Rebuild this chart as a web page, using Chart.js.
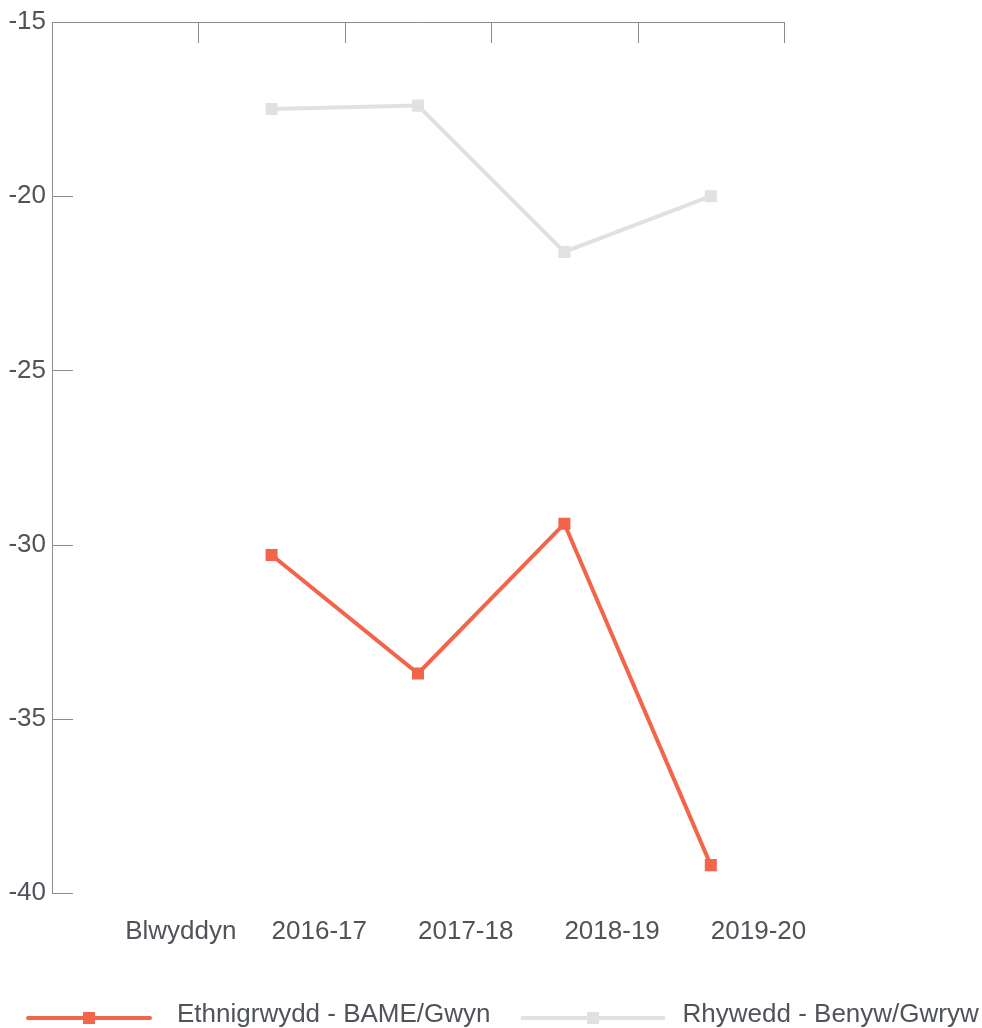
<!DOCTYPE html>
<html>
<head>
<meta charset="utf-8">
<script src="https://cdn.jsdelivr.net/npm/chart.js@4.4.0/dist/chart.umd.min.js"></script>
<style>
  html, body { margin: 0; padding: 0; background: #fff; }
  #wrap { width: 982px; height: 1028px; position: relative; }
</style>
</head>
<body>
<div id="wrap"><canvas id="gap-chart"></canvas></div>
<script>
var years = ["Blwyddyn", "2016-17", "2017-18", "2018-19", "2019-20"];
var ethnicityGap = [null, -30.3, -33.7, -29.4, -39.2];
var genderGap = [null, -17.5, -17.4, -21.6, -20.0];
var yTicks = [-40, -35, -30, -25, -20, -15];

var seriesNames = ["Ethnigrwydd - BAME/Gwyn", "Rhywedd - Benyw/Gwryw"];
var seriesColors = ["#f2654a", "#e1e1e3"];

var textColor = "#505459";
var axisColor = "#8c8c8c";
var fontFamily = "'Liberation Sans', Arial, sans-serif";

// legend sample line lengths and gap before the text
var legendLine = [122, 141];
var legendGap = [27, 19];

// axis line along the top plus the short inward tick marks
var axisFrame = {
    id: 'axisFrame',
    afterDraw: function (chart) {
        var ctx = chart.ctx, area = chart.chartArea;
        var x = chart.scales.x, y = chart.scales.y;
        var half = (x.getPixelForTick(1) - x.getPixelForTick(0)) / 2;
        ctx.save();
        ctx.strokeStyle = axisColor;
        ctx.lineWidth = 1;
        ctx.beginPath();
        ctx.moveTo(area.left, area.top + 0.5);
        ctx.lineTo(area.right + 1, area.top + 0.5);
        for (var i = 0; i < years.length; i++) {
            var px = Math.round(x.getPixelForTick(i) + half) + 0.5;
            ctx.moveTo(px, area.top);
            ctx.lineTo(px, area.top + 21);
        }
        yTicks.forEach(function (v) {
            var py = Math.round(y.getPixelForValue(v)) + 0.5;
            ctx.moveTo(area.left, py);
            ctx.lineTo(area.left + 21, py);
        });
        ctx.stroke();
        ctx.restore();
    }
};

// legend row: line sample with a square marker, then the series name
var lineLegend = {
    id: 'lineLegend',
    afterDraw: function (chart) {
        var ctx = chart.ctx;
        var yLine = chart.height - 10;
        var x = 28;
        ctx.save();
        ctx.font = "26px " + fontFamily;
        ctx.textBaseline = 'middle';
        chart.data.datasets.forEach(function (ds, i) {
            var len = legendLine[i];
            ctx.strokeStyle = ds.borderColor;
            ctx.lineWidth = 4;
            ctx.lineCap = 'round';
            ctx.beginPath();
            ctx.moveTo(x, yLine);
            ctx.lineTo(x + len, yLine);
            ctx.stroke();
            ctx.fillStyle = ds.backgroundColor;
            ctx.fillRect(Math.round(x + len / 2 - 6), yLine - 6, 12, 12);
            var tx = x + len + legendGap[i];
            ctx.fillStyle = textColor;
            ctx.fillText(ds.label, tx, yLine - 3);
            x = tx + ctx.measureText(ds.label).width + 32;
        });
        ctx.restore();
    }
};

function makeSeries(label, values, color) {
    return {
        label: label,
        data: values,
        borderColor: color,
        backgroundColor: color,
        borderWidth: 4,
        pointStyle: 'rect',
        pointRadius: 8.5,
        pointHoverRadius: 8.5,
        pointBorderWidth: 0,
        tension: 0,
        spanGaps: false
    };
}

new Chart(document.getElementById("gap-chart"), {
    type: 'line',
    data: {
        labels: years,
        datasets: [
            makeSeries(seriesNames[0], ethnicityGap, seriesColors[0]),
            makeSeries(seriesNames[1], genderGap, seriesColors[1])
        ]
    },
    options: {
        responsive: true,
        maintainAspectRatio: false,
        animation: false,
        layout: {
            padding: { top: 22, right: 198, bottom: 0, left: 0 }
        },
        scales: {
            x: {
                offset: true,
                grid: { display: false, drawTicks: false, offset: true },
                border: { display: false },
                ticks: {
                    align: 'start',
                    padding: 23,
                    color: textColor,
                    font: { family: fontFamily, size: 26 },
                    maxRotation: 0,
                    autoSkip: false
                },
                afterFit: function (scale) { scale.height = 135; }
            },
            y: {
                min: yTicks[0],
                max: yTicks[yTicks.length - 1],
                afterBuildTicks: function (scale) {
                    scale.ticks = yTicks.map(function (v) { return { value: v }; });
                },
                grid: { display: false, drawTicks: false },
                border: { display: true, color: axisColor, width: 1 },
                ticks: {
                    padding: 6,
                    color: textColor,
                    font: { family: fontFamily, size: 26 }
                },
                afterFit: function (scale) {
                    scale.width = 52;
                    scale.paddingTop = 0;
                    scale.paddingBottom = 0;
                }
            }
        },
        plugins: {
            legend: { display: false },
            tooltip: { enabled: false }
        }
    },
    plugins: [axisFrame, lineLegend]
});
</script>
</body>
</html>
